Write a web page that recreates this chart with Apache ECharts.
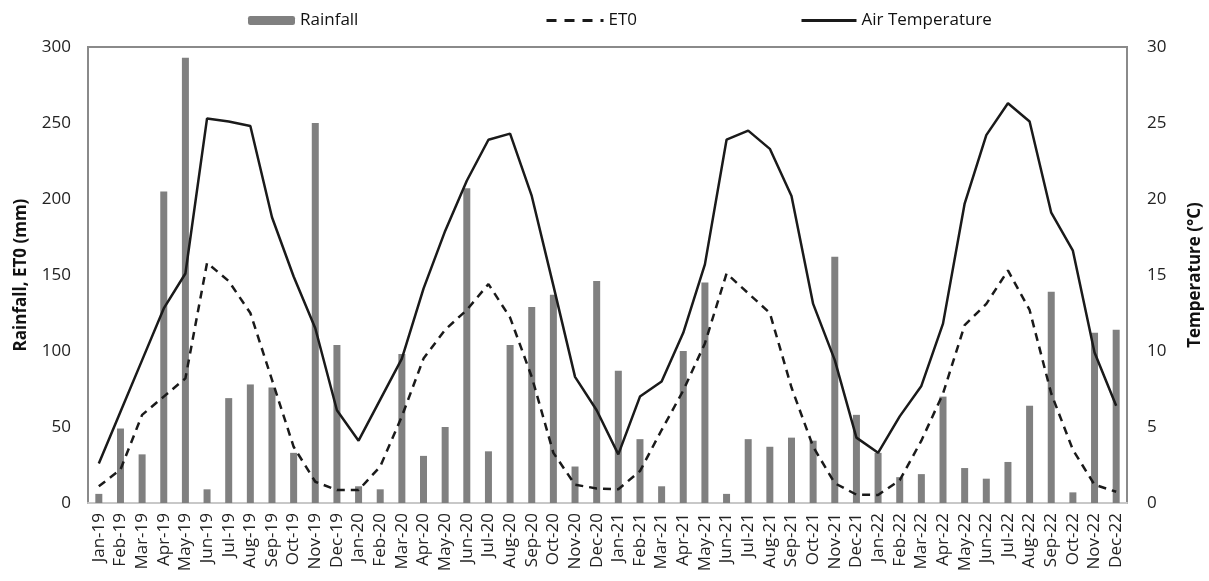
<!DOCTYPE html>
<html>
<head>
<meta charset="utf-8">
<script src="https://cdn.jsdelivr.net/npm/echarts@6/dist/echarts.min.js"></script>
<style>
html,body{margin:0;padding:0;background:#fff;}
#chart{width:1209px;height:581px;}
</style>
</head>
<body>
<div id="chart"></div>
<script>
var months = ['Jan-19','Feb-19','Mar-19','Apr-19','May-19','Jun-19','Jul-19','Aug-19','Sep-19','Oct-19','Nov-19','Dec-19',
  'Jan-20','Feb-20','Mar-20','Apr-20','May-20','Jun-20','Jul-20','Aug-20','Sep-20','Oct-20','Nov-20','Dec-20',
  'Jan-21','Feb-21','Mar-21','Apr-21','May-21','Jun-21','Jul-21','Aug-21','Sep-21','Oct-21','Nov-21','Dec-21',
  'Jan-22','Feb-22','Mar-22','Apr-22','May-22','Jun-22','Jul-22','Aug-22','Sep-22','Oct-22','Nov-22','Dec-22'];

var rainfall = [6,49,32,205,293,9,69,78,76,33,250,104,
  11,9,98,31,50,207,34,104,129,137,24,146,
  87,42,11,100,145,6,42,37,43,41,162,58,
  33,17,19,70,23,16,27,64,139,7,112,114];

var et0 = [11,22,58,70,82,158,146,125,81,37,14,8.5,
  8.5,24,57,95,114,127,144,122,83,33,12,9.6,
  9,21,48,74,105,151,138,125,76,37,13,5.5,
  5.3,15,41,72,117,131,153,127,72,35,12,7.4];

var airTemp = [2.6,6.0,9.4,12.8,15.1,25.3,25.1,24.8,18.8,14.9,11.5,6.1,
  4.1,6.8,9.5,14.1,17.9,21.2,23.9,24.3,20.2,14.3,8.3,6.1,
  3.2,7.0,8.0,11.2,15.7,23.9,24.5,23.3,20.2,13.1,9.4,4.3,
  3.3,5.7,7.7,11.8,19.7,24.2,26.3,25.1,19.1,16.6,9.9,6.4];

var leftTicks = {min:0, max:300, interval:50};
var rightTicks = {min:0, max:30, interval:5};

var FONT = 'Open Sans';
var chart = echarts.init(document.getElementById('chart'), null, {renderer:'canvas'});
var legendText = {fontFamily:FONT, fontSize:17, color:'#111'};
chart.setOption({
  animation:false,
  backgroundColor:'#fff',
  textStyle:{fontFamily:FONT},
  legend:[
    {data:['Rainfall'], left:243, top:7, itemWidth:47, itemHeight:9, textStyle:legendText, selectedMode:false},
    {data:[{name:'ET0', itemStyle:{opacity:0}}], left:540, top:7, itemWidth:57, itemHeight:14, textStyle:legendText, selectedMode:false,
     lineStyle:{width:3, type:[10,8]}},
    {data:[{name:'Air Temperature', itemStyle:{opacity:0}}], left:795, top:7, itemWidth:55, itemHeight:14, textStyle:legendText, selectedMode:false,
     lineStyle:{width:3}}
  ],
  grid:{left:88, right:82, top:47, bottom:78, show:true, borderColor:'#8a8a8a', borderWidth:2,
        containLabel:false, outerBoundsMode:'none'},
  xAxis:{
    type:'category', data:months, boundaryGap:true,
    axisTick:{show:false},
    axisLine:{show:true, lineStyle:{color:'#c8c8c8', width:2}},
    axisLabel:{rotate:90, interval:0, fontSize:17, color:'#222', margin:10, fontFamily:FONT}
  },
  yAxis:[
    {type:'value', min:leftTicks.min, max:leftTicks.max, interval:leftTicks.interval,
     name:'Rainfall, ET0 (mm)', nameLocation:'middle', nameRotate:90, nameGap:58,
     nameTextStyle:{fontSize:17, fontWeight:'bold', color:'#111', fontFamily:FONT},
     axisLine:{show:true, lineStyle:{color:'#8a8a8a', width:2}},
     axisTick:{show:false}, splitLine:{show:false},
     axisLabel:{fontSize:17, color:'#222', margin:17, fontFamily:FONT}},
    {type:'value', min:rightTicks.min, max:rightTicks.max, interval:rightTicks.interval, position:'right',
     name:'Temperature (°C)', nameLocation:'middle', nameRotate:90, nameGap:60,
     nameTextStyle:{fontSize:17, fontWeight:'bold', color:'#111', fontFamily:FONT},
     axisLine:{show:true, lineStyle:{color:'#8a8a8a', width:2}},
     axisTick:{show:false}, splitLine:{show:false},
     axisLabel:{fontSize:17, color:'#222', margin:20, fontFamily:FONT}}
  ],
  series:[
    {name:'Rainfall', type:'bar', yAxisIndex:0, data:rainfall, barWidth:7,
     itemStyle:{color:'#808080'}},
    {name:'ET0', type:'line', yAxisIndex:0, data:et0, symbol:'none',
     lineStyle:{color:'#1a1a1a', width:2.5, type:[8,6]}, itemStyle:{color:'#1a1a1a'}, z:3},
    {name:'Air Temperature', type:'line', yAxisIndex:1, data:airTemp, symbol:'none',
     lineStyle:{color:'#1a1a1a', width:2.5}, itemStyle:{color:'#1a1a1a'}, z:4}
  ]
});
</script>
</body>
</html>
